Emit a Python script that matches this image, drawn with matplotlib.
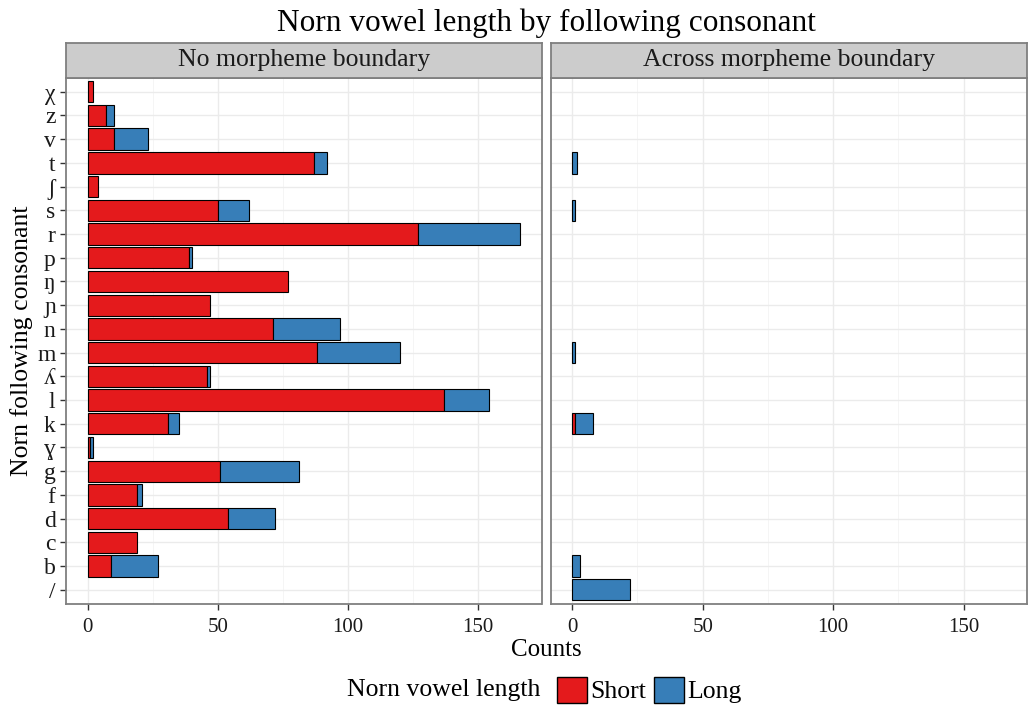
import matplotlib.pyplot as plt
import numpy as np
from matplotlib.offsetbox import HPacker
from matplotlib.patches import Patch

plt.rcParams["font.family"] = ["Liberation Serif", "DejaVu Serif"]

# Categories, bottom to top
consonants = ["/", "b", "c", "d", "f", "g", "ɣ", "k", "l", "ʎ", "m",
              "n", "ɲ", "ŋ", "p", "r", "s", "ʃ", "t", "v", "z", "χ"]

no_boundary_short = [0, 9, 19, 54, 19, 51, 1, 31, 137, 46, 88,
                     71, 47, 77, 39, 127, 50, 4, 87, 10, 7, 2]
no_boundary_long = [0, 18, 0, 18, 2, 30, 1, 4, 17, 1, 32,
                    26, 0, 0, 1, 39, 12, 0, 5, 13, 3, 0]

across_short = [0, 0, 0, 0, 0, 0, 0, 1, 0, 0, 0,
                0, 0, 0, 0, 0, 0, 0, 0, 0, 0, 0]
across_long = [22, 3, 0, 0, 0, 0, 0, 7, 0, 0, 1,
               0, 0, 0, 0, 0, 1, 0, 2, 0, 0, 0]

panels = ["No morpheme boundary", "Across morpheme boundary"]
SHORT_COLOR = "#E41A1C"
LONG_COLOR = "#377EB8"

W, H = 1029, 706
fig = plt.figure(figsize=(W / 100, H / 100), dpi=100)


def px_axes(x0, y0, x1, y1):
    return fig.add_axes([x0 / W, 1 - y1 / H, (x1 - x0) / W, (y1 - y0) / H])


panel_boxes = [(66, 541.5), (550.5, 1027)]
top, bottom, strip_top = 77.5, 604, 42.5

totals = np.array(no_boundary_short) + np.array(no_boundary_long)
xmax = totals.max()
xlim = (-0.05 * xmax, xmax * 1.05)
y = np.arange(len(consonants))

data = [(no_boundary_short, no_boundary_long), (across_short, across_long)]

for i, ((x0, x1), (short, long_), title) in enumerate(zip(panel_boxes, data, panels)):
    ax = px_axes(x0, top, x1, bottom)
    ax.set_xlim(*xlim)
    ax.set_ylim(-0.6, len(consonants) - 0.4)

    short = np.array(short)
    long_ = np.array(long_)
    mask_s = short > 0
    mask_l = long_ > 0
    ax.barh(y[mask_s], short[mask_s], height=0.9, color=SHORT_COLOR,
            edgecolor="black", linewidth=0.8, zorder=3)
    ax.barh(y[mask_l], long_[mask_l], left=short[mask_l], height=0.9,
            color=LONG_COLOR, edgecolor="black", linewidth=0.8, zorder=3)

    ax.set_xticks([0, 50, 100, 150])
    ax.set_xticks([25, 75, 125], minor=True)
    ax.set_yticks(y)
    ax.grid(True, which="major", color="#EBEBEB", linewidth=1.0, zorder=0)
    ax.grid(True, which="minor", axis="x", color="#F4F4F4", linewidth=0.6, zorder=0)
    ax.tick_params(axis="both", which="major", length=4, width=1.0,
                   color="#333333", labelsize=15, labelcolor="#1a1a1a")
    ax.tick_params(axis="x", pad=6)
    ax.tick_params(axis="y", labelsize=17)
    ax.tick_params(axis="x", which="minor", length=0)
    if i == 0:
        ax.set_yticklabels(consonants)
        ax.set_ylabel("Norn following consonant", fontsize=18.5, labelpad=3)
    else:
        ax.tick_params(axis="y", length=0, labelleft=False)
    for s in ax.spines.values():
        s.set_color("#7F7F7F")
        s.set_linewidth(1.3)
    ax.set_axisbelow(True)

    # facet strip
    sax = px_axes(x0, strip_top, x1, top)
    sax.set_xticks([])
    sax.set_yticks([])
    sax.set_facecolor("#CCCCCC")
    for s in sax.spines.values():
        s.set_color("#7F7F7F")
        s.set_linewidth(1.3)
    sax.text(0.5, 0.5, title, ha="center", va="center", fontsize=18.5,
             color="#1a1a1a", transform=sax.transAxes)

fig.text(546 / W, 1 - 23 / H, "Norn vowel length by following consonant",
         ha="center", va="center", fontsize=22.5)
fig.text(546 / W, 1 - 650 / H, "Counts", ha="center", va="center", fontsize=18)

handles = [Patch(facecolor=SHORT_COLOR, edgecolor="black", label="Short"),
           Patch(facecolor=LONG_COLOR, edgecolor="black", label="Long")]
leg = fig.legend(handles=handles, title="Norn vowel length", loc="center",
                 bbox_to_anchor=(544 / W, 1 - 690 / H), ncol=2, frameon=False,
                 fontsize=18.5, title_fontsize=18.5, handlelength=1.2,
                 handleheight=1.2, handletextpad=0.1, columnspacing=0.3)
# put title to the left of the keys, like ggplot's bottom legend
leg._legend_box._children = [HPacker(pad=0, sep=12, align="center",
                                     children=[leg._legend_title_box,
                                               leg._legend_handle_box])]

fig.savefig("out.png", dpi=100)
